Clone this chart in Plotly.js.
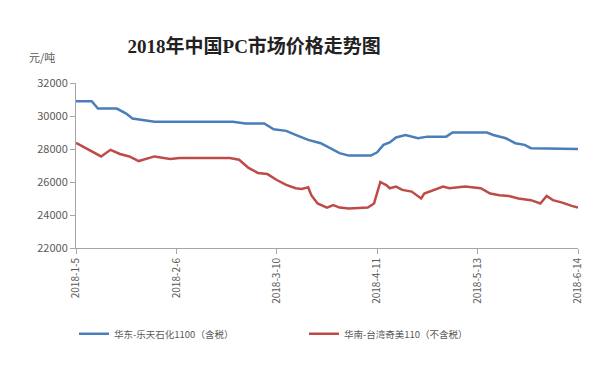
<!DOCTYPE html>
<html><head><meta charset="utf-8">
<script src="https://cdn.plot.ly/plotly-3.0.1.min.js"></script>
<style>body{margin:0;background:#fff}#c{width:614px;height:368px}</style>
</head><body><div id="c"></div>
<script>
const seriesNames = ['华东-乐天石化1100（含税）', '华南-台湾奇美110（不含税）'];
const eastDates = ['2018-01-05','2018-01-10','2018-01-12','2018-01-18','2018-01-21','2018-01-23','2018-01-30','2018-02-24','2018-02-28','2018-03-06','2018-03-09','2018-03-13','2018-03-16','2018-03-20','2018-03-24','2018-03-27','2018-03-30','2018-04-02','2018-04-09','2018-04-11','2018-04-13','2018-04-15','2018-04-17','2018-04-20','2018-04-24','2018-04-27','2018-05-03','2018-05-05','2018-05-16','2018-05-18','2018-05-22','2018-05-25','2018-05-28','2018-05-30','2018-06-14'];
const eastValues = [30900,30900,30450,30450,30150,29850,29650,29650,29550,29550,29200,29100,28850,28550,28350,28050,27750,27600,27600,27800,28250,28400,28700,28850,28650,28750,28750,29000,29000,28850,28650,28350,28250,28050,28000];
const southDates = ['2018-01-05','2018-01-09','2018-01-13','2018-01-16','2018-01-19','2018-01-22','2018-01-25','2018-01-30','2018-02-04','2018-02-07','2018-02-23','2018-02-26','2018-03-01','2018-03-04','2018-03-07','2018-03-10','2018-03-13','2018-03-16','2018-03-18','2018-03-20','2018-03-21','2018-03-23','2018-03-26','2018-03-28','2018-03-30','2018-04-02','2018-04-08','2018-04-10','2018-04-12','2018-04-14','2018-04-15','2018-04-17','2018-04-19','2018-04-22','2018-04-25','2018-04-26','2018-04-29','2018-05-02','2018-05-04','2018-05-06','2018-05-09','2018-05-14','2018-05-17','2018-05-20','2018-05-23','2018-05-26','2018-05-30','2018-06-02','2018-06-04','2018-06-06','2018-06-09','2018-06-12','2018-06-14'];
const southValues = [28380,27950,27550,27950,27700,27550,27270,27550,27400,27450,27450,27350,26850,26550,26480,26120,25820,25620,25580,25680,25200,24700,24450,24600,24450,24400,24450,24700,26000,25800,25620,25720,25520,25420,25000,25300,25520,25720,25620,25650,25720,25620,25300,25200,25150,25000,24900,24700,25150,24900,24750,24550,24450];
const tickDates = ['2018-01-05','2018-02-06','2018-03-10','2018-04-11','2018-05-13','2018-06-14'];
const tickLabels = ['2018-1-5','2018-2-6','2018-3-10','2018-4-11','2018-5-13','2018-6-14'];
const yTicks = [22000,24000,26000,28000,30000,32000];

const font = '"Noto Sans CJK SC", "Noto Sans", sans-serif';
const traces = [
  {x: eastDates, y: eastValues, name: seriesNames[0], type: 'scatter', mode: 'lines',
   line: {color: '#4a7ebb', width: 2.5}},
  {x: southDates, y: southValues, name: seriesNames[1], type: 'scatter', mode: 'lines',
   line: {color: '#be4b48', width: 2.5}}
];
const layout = {
  width: 614, height: 368,
  margin: {l: 76, r: 36, t: 83, b: 120},
  paper_bgcolor: '#fff', plot_bgcolor: '#fff',
  font: {family: font, color: '#595959', size: 11},
  title: {text: '<b>2018年中国PC市场价格走势图</b>', x: 0.355, xref: 'paper', xanchor: 'center',
          y: 0.875, yref: 'container', yanchor: 'middle',
          font: {family: '"Liberation Serif", "Noto Sans CJK SC", serif', size: 19, color: '#222'}},
  xaxis: {type: 'date', range: ['2018-01-05', '2018-06-14'], tickmode: 'array',
          tickvals: tickDates, ticktext: tickLabels, tickangle: -90,
          showgrid: false, zeroline: false, showline: true, linecolor: '#a6a6a6', linewidth: 1,
          ticks: 'outside', ticklen: 5, tickcolor: '#a6a6a6', tickfont: {size: 10, color: '#595959'}},
  yaxis: {range: [22000, 32000], tickmode: 'array', tickvals: yTicks, tickformat: 'd',
          showgrid: false, zeroline: false, showline: true, linecolor: '#a6a6a6', linewidth: 1,
          ticks: 'outside', ticklen: 5, tickcolor: '#a6a6a6', tickfont: {size: 11, color: '#595959'}},
  showlegend: true,
  legend: {orientation: 'h', x: -0.004, xanchor: 'left', y: -0.52, yanchor: 'middle',
           font: {size: 9.5, color: '#595959'}, itemwidth: 30, entrywidth: 185, entrywidthmode: 'pixels'},
  annotations: [{text: '元/吨', xref: 'paper', yref: 'paper', x: -0.098, y: 1.16,
                 xanchor: 'left', yanchor: 'middle', showarrow: false,
                 font: {size: 11, color: '#595959'}}]
};
Plotly.newPlot('c', traces, layout, {displayModeBar: false, staticPlot: true});
</script></body></html>
